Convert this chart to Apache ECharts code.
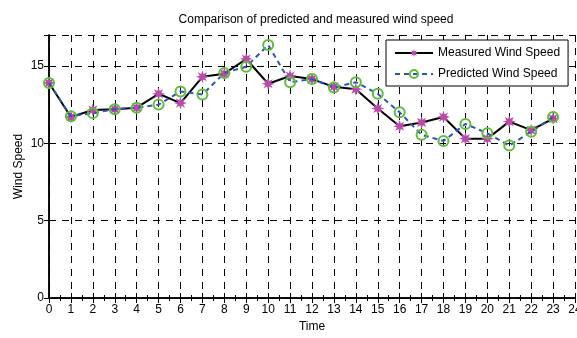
<!DOCTYPE html>
<html>
<head>
<meta charset="utf-8">
<script src="https://cdn.jsdelivr.net/npm/echarts@6/dist/echarts.min.js"></script>
<style>
html, body { margin: 0; padding: 0; background: #fff; }
#chart { width: 577px; height: 338px; }
</style>
</head>
<body>
<div id="chart"></div>
<script>
const hours = [0, 1, 2, 3, 4, 5, 6, 7, 8, 9, 10, 11, 12, 13, 14, 15, 16, 17, 18, 19, 20, 21, 22, 23]
const measured = [13.9, 11.7, 12.15, 12.2, 12.3, 13.2, 12.6, 14.3, 14.5, 15.45, 13.85, 14.35, 14.15, 13.65, 13.5, 12.25, 11.1, 11.35, 11.7, 10.3, 10.3, 11.4, 10.85, 11.6]
const predicted = [13.9, 11.75, 11.95, 12.2, 12.3, 12.5, 13.35, 13.15, 14.55, 14.95, 16.35, 13.95, 14.15, 13.6, 13.95, 13.2, 12.0, 10.55, 10.15, 11.25, 10.65, 9.85, 10.75, 11.7]
const yTicks = [0, 5, 10, 15]

// asterisk-like marker
let star = 'path://'
for (let i = 0; i < 16; i++) {
    const r = i % 2 === 0 ? 10 : 4.6
    const a = Math.PI * i / 8 - Math.PI / 2
    star += (i === 0 ? 'M' : 'L') + (10 + r * Math.cos(a)).toFixed(2) + ',' + (10 + r * Math.sin(a)).toFixed(2)
}
star += 'Z'

const dash = [7, 6]
const font = 'Arial, "Liberation Sans", sans-serif'

const chart = echarts.init(document.getElementById('chart'))
chart.setOption({
    animation: false,
    textStyle: { fontFamily: font, color: '#000' },
    title: {
        text: 'Comparison of predicted and measured wind speed',
        left: 311,
        top: 9,
        textAlign: 'center',
        textStyle: { fontSize: 12, fontWeight: 'normal', color: '#000', fontFamily: font }
    },
    grid: { left: 49, right: 2, top: 35, bottom: 40, outerBoundsMode: 'none' },
    legend: {
        orient: 'vertical',
        left: 386,
        top: 40,
        width: 184,
        padding: [7, 8, 6, 8],
        itemGap: 9,
        itemWidth: 38,
        itemHeight: 10,
        backgroundColor: '#fff',
        borderColor: '#000',
        borderWidth: 1,
        textStyle: { fontSize: 12, color: '#000', fontFamily: font },
        data: ['Measured Wind Speed', 'Predicted Wind Speed']
    },
    xAxis: [{
        type: 'value',
        min: 0,
        max: 24,
        interval: 1,
        name: 'Time',
        nameLocation: 'middle',
        nameGap: 23,
        nameMoveOverlap: false,
        nameTextStyle: { fontSize: 12, color: '#000' },
        axisLine: { lineStyle: { color: '#000', width: 1.5 } },
        axisTick: { inside: true, length: 5, lineStyle: { color: '#000' } },
        minorTick: { show: true, splitNumber: 2, length: 3, lineStyle: { color: '#000' } },
        axisLabel: { fontSize: 12, color: '#000', margin: 6 },
        splitLine: { show: true, lineStyle: { color: '#000', type: dash, width: 1 } }
    }, {
        type: 'value',
        position: 'top',
        min: 0,
        max: 24,
        interval: 1,
        axisLine: { lineStyle: { color: '#000', width: 1.5 } },
        axisTick: { inside: true, length: 5, lineStyle: { color: '#000' } },
        minorTick: { show: true, splitNumber: 2, length: 3, lineStyle: { color: '#000' } },
        axisLabel: { show: false },
        splitLine: { show: false }
    }],
    yAxis: [{
        type: 'value',
        min: 0,
        max: 17,
        interval: 5,
        name: 'Wind Speed',
        nameLocation: 'middle',
        nameGap: 24,
        nameMoveOverlap: false,
        nameTextStyle: { fontSize: 12, color: '#000' },
        axisLine: { show: true, lineStyle: { color: '#000', width: 1.5 } },
        axisTick: { show: true, inside: true, length: 5, lineStyle: { color: '#000' } },
        axisLabel: {
            fontSize: 12, color: '#000', margin: 5, showMaxLabel: false,
            formatter: v => yTicks.indexOf(v) >= 0 ? String(v) : ''
        },
        splitLine: { show: true, lineStyle: { color: '#000', type: dash, width: 1 } }
    }, {
        type: 'value',
        position: 'right',
        min: 0,
        max: 17,
        interval: 5,
        axisLine: { show: true, lineStyle: { color: '#000', width: 1.5 } },
        axisTick: { show: true, inside: true, length: 5, lineStyle: { color: '#000' } },
        axisLabel: { show: false },
        splitLine: { show: false }
    }],
    series: [{
        name: 'Measured Wind Speed',
        type: 'line',
        data: hours.map((h, i) => [h, measured[i]]),
        symbol: star,
        symbolSize: 13,
        showAllSymbol: true,
        lineStyle: { color: '#000', width: 2 },
        itemStyle: { color: '#bb4aa8', borderWidth: 0 },
        z: 2
    }, {
        name: 'Predicted Wind Speed',
        type: 'line',
        data: hours.map((h, i) => [h, predicted[i]]),
        symbol: 'circle',
        symbolSize: 10,
        showAllSymbol: true,
        lineStyle: { color: '#2f55b5', width: 2, type: [5, 4] },
        itemStyle: { color: 'rgba(0,0,0,0)', borderColor: '#5cbf3a', borderWidth: 2 },
        z: 3
    }]
})
</script>
</body>
</html>
